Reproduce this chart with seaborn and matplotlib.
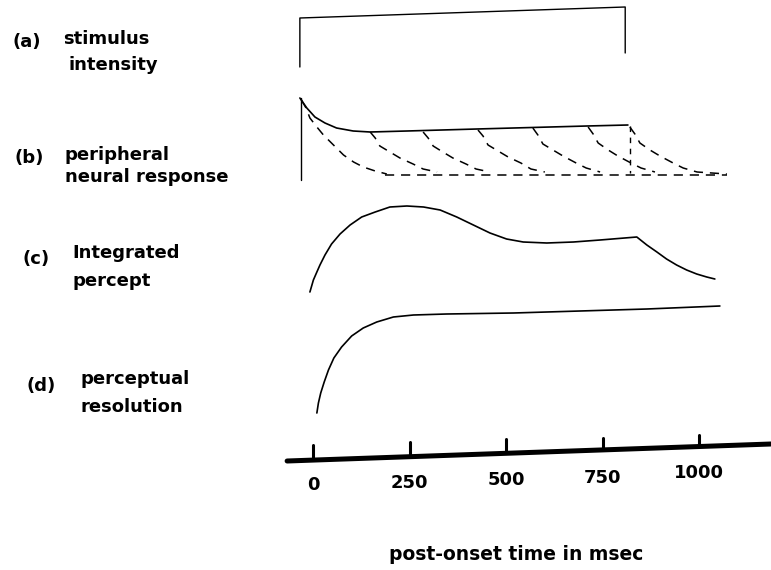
import matplotlib
matplotlib.use("Agg")
import matplotlib.pyplot as plt
import seaborn as sns
import pandas as pd

# ---------------- data (time in ms, level in arbitrary drawing units) ----------------
# (a) stimulus intensity (rectangular pulse)
stim_t = [-34, -34, 808, 808]
stim_y = [503, 552, 563, 517]

# (b) peripheral neural response: envelope (solid)
env_t = [-34, -16, 5, 31, 61, 104, 148, 243, 424, 709, 815]
env_y = [472, 462, 453, 447, 442, 439, 438, 439, 441, 444, 445]
# onset bar of (b)
onset_t = [-31, -31]
onset_y = [472, 390]
# offset marker of (b)
offset_t = [820, 820]
offset_y = [444, 397]
# individual decaying volleys (dashed)
volley_t = [
    [-30, -18, -8, 10, 27, 53, 79, 105, 130, 161, 191],
    [148, 161, 173, 199, 225, 259, 285, 321],
    [285, 298, 311, 336, 362, 396, 422, 458],
    [427, 440, 453, 479, 505, 538, 564, 600],
    [569, 582, 595, 621, 647, 681, 707, 743],
    [712, 725, 738, 764, 789, 823, 849, 885],
    [820, 833, 846, 872, 898, 932, 958, 994, 1071],
]
volley_y = [
    [470, 462, 452, 443, 435, 425, 415, 408, 403, 399, 396],
    [438, 432, 424, 418, 412, 406, 401, 398],
    [438, 432, 424, 418, 412, 406, 401, 398],
    [440, 434, 425, 419, 413, 407, 401, 398],
    [442, 435, 426, 420, 414, 407, 402, 398],
    [443, 436, 427, 420, 414, 407, 402, 398],
    [443, 436, 427, 420, 414, 407, 402, 398, 396],
]
rest_t = [186, 1071]
rest_y = [395, 395]

# (c) integrated percept
perc_t = [-8, 1, 10, 18, 31, 48, 70, 96, 126, 161, 199, 243, 286, 329, 372, 415,
          458, 501, 544, 605, 674, 743, 838, 864, 890, 915, 941, 967, 993, 1019, 1040]
perc_y = [278, 290, 298, 305, 315, 326, 336, 345, 353, 358, 363, 364, 363, 360, 353, 345,
          337, 331, 328, 327, 328, 330, 333, 325, 318, 311, 305, 300, 296, 293, 291]

# (d) perceptual resolution
res_t = [10, 14, 20, 29, 40, 54, 74, 100, 130, 165, 208, 260, 346, 519, 691, 864, 1053]
res_y = [157, 167, 177, 188, 200, 212, 223, 234, 242, 248, 253, 255, 256, 257, 259, 261, 264]

# time axis
axis_t = [-67, 1185]
axis_y = [109, 126]
tick_vals = [0, 250, 500, 750, 1000]
tick_labels = ["0", "250", "500", "750", "1000"]
tick_base = [110, 113, 117, 120, 124]
tick_top = [125, 128, 131, 132, 135]
xlabel = "post-onset time in msec"

panel_tags = ["(a)", "(b)", "(c)", "(d)"]
panel_lines = [["stimulus", "intensity"],
               ["peripheral", "neural response"],
               ["Integrated", "percept"],
               ["perceptual", "resolution"]]

# ---------------- layout ----------------
sns.set_theme(style="white")
plt.rcParams["font.family"] = ["DejaVu Sans"]
W, H = 771, 570
fig = plt.figure(figsize=(W / 100, H / 100), dpi=100)
ax = fig.add_axes([0, 0, 1, 1])
ax.set_xlim((0 - 313) / 0.3864, (W - 313) / 0.3864)
ax.set_ylim(0, H)
ax.set_axis_off()

K = "black"


def draw(t, y, lw=1.1, ls="-"):
    df = pd.DataFrame({"t": t, "y": y})
    sns.lineplot(data=df, x="t", y="y", ax=ax, color=K, lw=lw, linestyle=ls,
                 estimator=None, sort=False, legend=False)


dash = (0, (6, 4.5))
draw(stim_t, stim_y, lw=1.0)
draw(env_t, env_y, lw=1.2)
draw(onset_t, onset_y, lw=1.0)
draw(offset_t, offset_y, lw=1.0, ls=(0, (4, 4)))
for vt, vy in zip(volley_t, volley_y):
    draw(vt, vy, lw=1.1, ls=dash)
draw(rest_t, rest_y, lw=1.1, ls=dash)
draw(perc_t, perc_y, lw=1.2)
draw(res_t, res_y, lw=1.2)

# time axis
draw(axis_t, axis_y, lw=3.6)
label_y = [85, 87, 90, 92, 97]
for v, lab, b, tp, ly in zip(tick_vals, tick_labels, tick_base, tick_top, label_y):
    draw([v, v], [b, tp], lw=2.2)
    ax.text(v, ly, lab, ha="center", va="center", fontsize=13, fontweight="bold", color=K)

fig.text(516 / W, 1 - 555 / H, xlabel, ha="center", va="center",
         fontsize=13.5, fontweight="bold", color=K)

# panel labels (pixel positions: x, baseline y)
tag_pos = [(13, 47), (15, 163), (22, 264), (27, 391)]
line_pos = [[(63, 44), (68, 70)],
            [(65, 160), (65, 182)],
            [(72, 258), (72, 286)],
            [(80, 384), (80, 412)]]
for tag, (tx, ty), lines, lpos in zip(panel_tags, tag_pos, panel_lines, line_pos):
    fig.text(tx / W, 1 - ty / H, tag, ha="left", va="baseline",
             fontsize=13, fontweight="bold", color=K)
    for s, (lx, lyy) in zip(lines, lpos):
        fig.text(lx / W, 1 - lyy / H, s, ha="left", va="baseline",
                 fontsize=13, fontweight="bold", color=K)

fig.savefig("out.png", dpi=100, facecolor="white")
